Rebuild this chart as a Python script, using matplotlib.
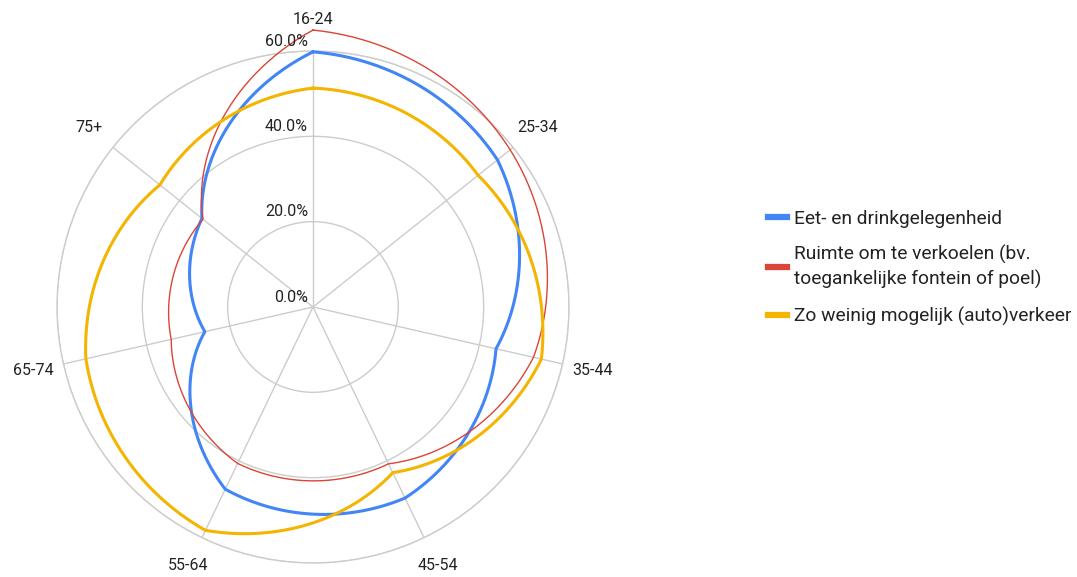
import numpy as np
import matplotlib
matplotlib.use('Agg')
import matplotlib.pyplot as plt
from matplotlib.lines import Line2D

plt.rcParams['font.family'] = ['Roboto', 'DejaVu Sans']

# Data (percentages per age group)
categories = ['16-24', '25-34', '35-44', '45-54', '55-64', '65-74', '75+']
eet_drink = [59.8, 55.3, 44.0, 49.7, 47.4, 26.0, 33.3]
verkoelen = [64.9, 59.1, 53.0, 40.8, 40.7, 34.1, 33.0]
weinig_verkeer = [51.3, 49.5, 54.9, 43.1, 58.1, 54.6, 45.9]
series_names = ['Eet- en drinkgelegenheid',
                'Ruimte om te verkoelen (bv.\ntoegankelijke fontein of poel)',
                'Zo weinig mogelijk (auto)verkeer']
r_ticks = [0, 20, 40, 60]

colors = ['#4285F4', '#DB4437', '#F4B400']
widths = [2.2, 1.0, 2.2]
grid_color = '#cccccc'

fig = plt.figure(figsize=(10.77, 5.77), dpi=100)
ax = fig.add_axes([57 / 1077, 14 / 577, 512 / 1077, 512 / 577], projection='polar')
ax.set_theta_zero_location('N')
ax.set_theta_direction(-1)

n = len(categories)
angles = np.arange(n) * 2 * np.pi / n
# close the loop at 2*pi so the last segment runs forward, not back round
theta = np.append(angles, 2 * np.pi)

for vals, c, lw in zip([eet_drink, verkoelen, weinig_verkeer], colors, widths):
    r = np.append(vals, vals[0])
    line, = ax.plot(theta, r, color=c, lw=lw, clip_on=False, zorder=3)
    # let the polar transform draw each segment as a spiral arc
    line.get_path()._interpolation_steps = 60

ax.set_ylim(0, 60)
ax.set_yticks(r_ticks[1:])
ax.set_yticklabels([])
ax.set_xticks(angles)
ax.set_xticklabels([])
ax.grid(True, color=grid_color, lw=1)
ax.spines['polar'].set_color(grid_color)
ax.spines['polar'].set_linewidth(1)

# radial value labels next to the top spoke
for v in r_ticks:
    ax.annotate(f'{v:.1f}%', xy=(0, v), xytext=(-5, 10), textcoords='offset pixels',
                ha='right', va='center', fontsize=11.5, color='#222222',
                annotation_clip=False)

# category labels outside the circle
for a, lab in zip(angles, categories):
    ax.text(a, 67.3, lab, ha='center', va='center', fontsize=11.5, color='#222222')

handles = [Line2D([], [], color=c, lw=4.5) for c in colors]
leg = fig.legend(handles, series_names, loc='center left', bbox_to_anchor=(0.697, 0.536),
                 frameon=False, fontsize=13.8, handlelength=1.0, handletextpad=0.35,
                 labelspacing=0.9, labelcolor='#222222')
for t in leg.get_texts():
    t.set_linespacing(1.4)

fig.savefig('out.png', dpi=100)
